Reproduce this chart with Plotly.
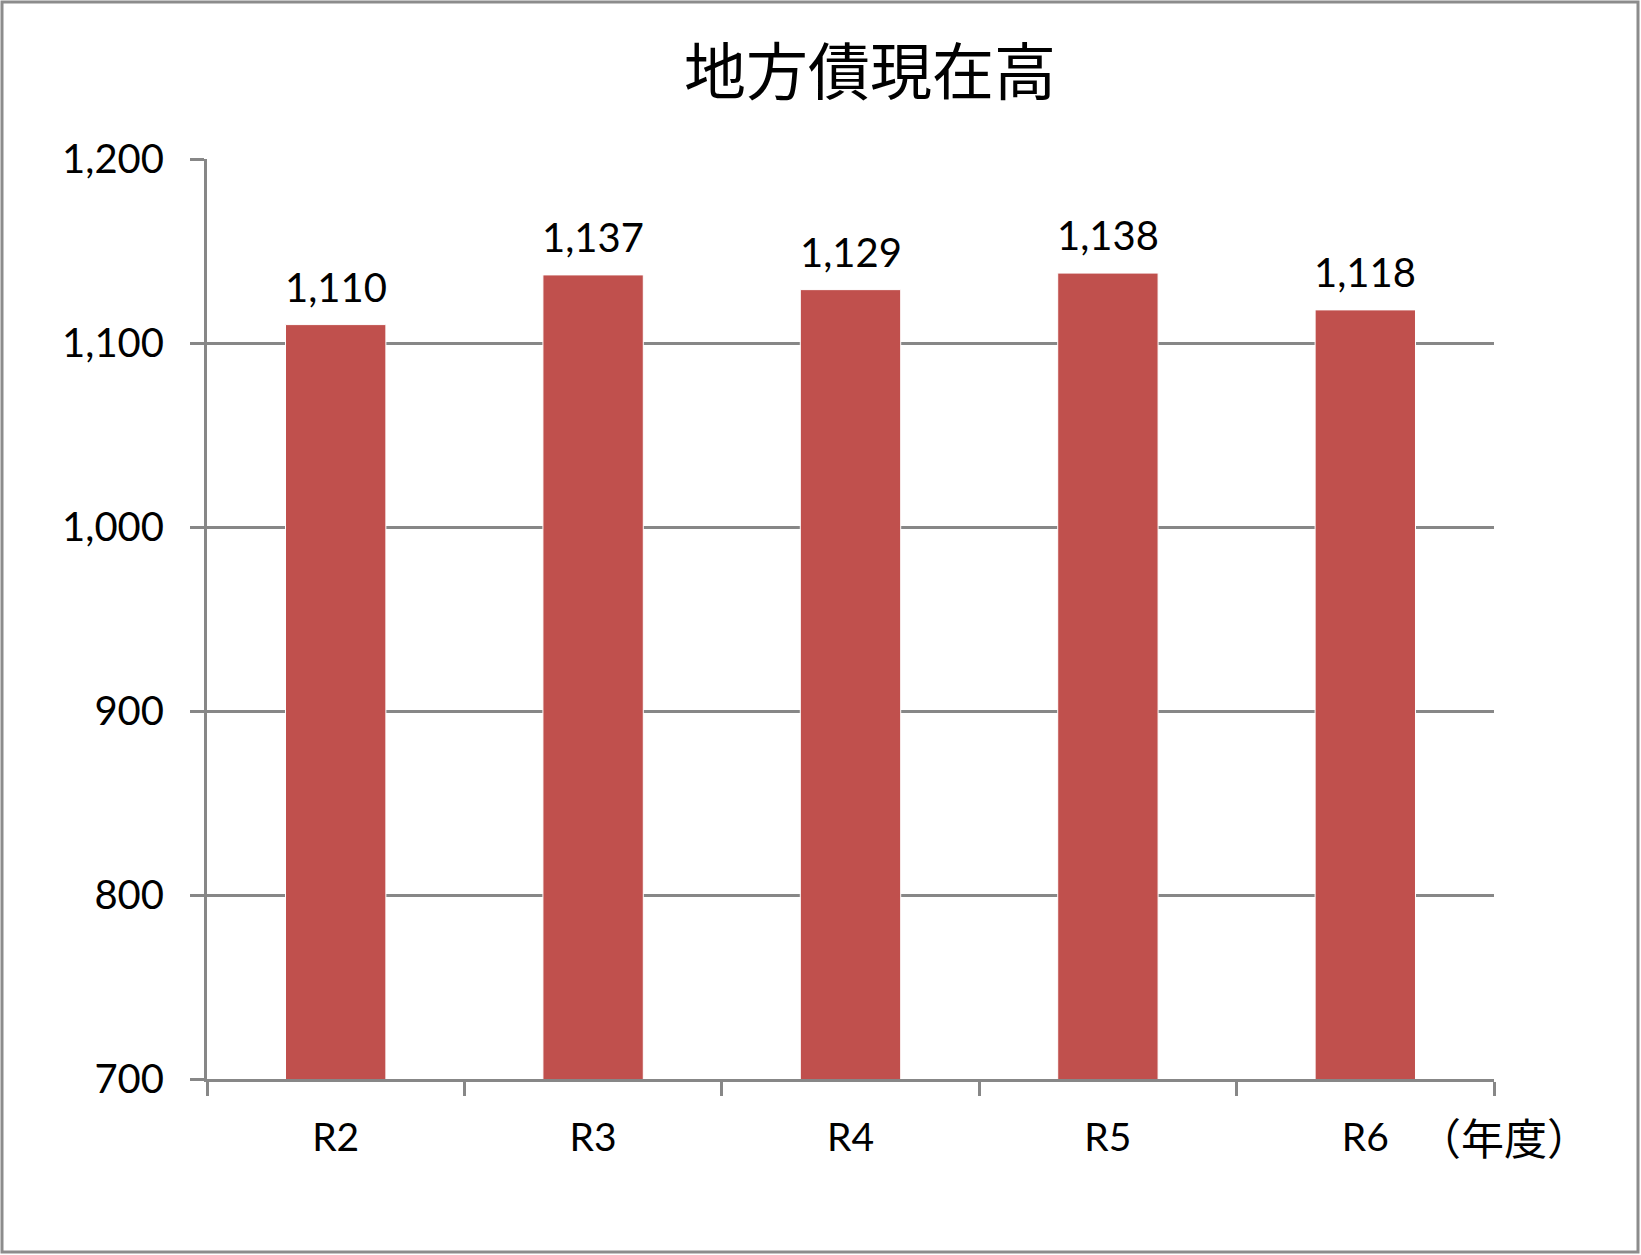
import plotly.graph_objects as go

categories = ["R2", "R3", "R4", "R5", "R6"]
values = [1110, 1137, 1129, 1138, 1118]
value_labels = ["1,110", "1,137", "1,129", "1,138", "1,118"]
y_ticks = [700, 800, 900, 1000, 1100, 1200]
y_tick_labels = ["700", "800", "900", "1,000", "1,100", "1,200"]

W, H = 1641, 1255
L, R, T, B = 207, 147, 159, 176
pw, ph = W - L - R, H - T - B

LAT = "Lato, Carlito, 'Liberation Sans', sans-serif"
CJK = "'Noto Sans CJK JP', sans-serif"
GRID = "#878787"

fig = go.Figure()
fig.add_trace(go.Bar(
    x=categories, y=values,
    marker=dict(color="#C0504D", line=dict(color="#ffffff", width=1)),
    width=0.39,
    cliponaxis=False,
))

for c, v, t in zip(categories, values, value_labels):
    fig.add_annotation(
        x=c, y=v, text=t, showarrow=False, xanchor="center",
        yanchor="middle", yshift=38,
        font=dict(family=LAT, size=40, color="#000000"),
    )

def px_x(px):
    return (px - L) / pw

def px_y(py):
    return (H - B - py) / ph

fig.update_layout(
    width=W, height=H,
    margin=dict(l=L, r=R, t=T, b=B),
    paper_bgcolor="white", plot_bgcolor="white",
    showlegend=False,
    title=dict(text="地方債現在高", x=870 / W, xanchor="center",
               y=1 - 73 / H, yanchor="middle",
               font=dict(family=CJK, size=62, color="#000000")),
    xaxis=dict(
        type="category", showline=True, linecolor=GRID, linewidth=3,
        ticks="outside", tickson="boundaries", ticklen=14, tickwidth=3,
        tickcolor=GRID, showgrid=False,
        tickfont=dict(family=LAT, size=39, color="#000000"),
        ticklabelstandoff=22,
    ),
    yaxis=dict(
        range=[700, 1200], tickvals=y_ticks, ticktext=y_tick_labels,
        showline=True, linecolor=GRID, linewidth=3,
        ticks="outside", ticklen=14, tickwidth=3, tickcolor=GRID,
        showgrid=True, gridcolor=GRID, gridwidth=3, zeroline=False,
        tickfont=dict(family=LAT, size=40, color="#000000"),
        ticklabelstandoff=18,
    ),
)

fig.add_annotation(
    text="（年度）", xref="paper", yref="paper",
    x=px_x(1504), y=px_y(1136), xanchor="center", yanchor="middle",
    showarrow=False, font=dict(family=CJK, size=43, color="#000000"),
)

fig.add_shape(
    type="rect", xref="paper", yref="paper",
    x0=px_x(2), x1=px_x(1638), y0=px_y(1252), y1=px_y(2),
    line=dict(color="#8c8c8c", width=3), fillcolor="rgba(0,0,0,0)",
    layer="below",
)

fig.write_html(
    "out.html",
    config={"displayModeBar": False},
    post_script="document.body.style.margin='0';document.body.style.overflow='hidden';",
)
